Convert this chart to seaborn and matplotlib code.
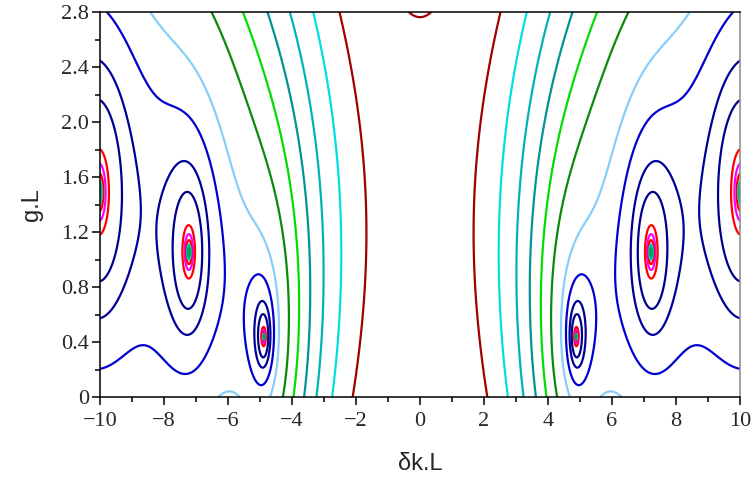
import numpy as np
import matplotlib
matplotlib.use("Agg")
import matplotlib.pyplot as plt
from matplotlib import font_manager
import seaborn as sns

# grating strength and plotted window (normalised to length L)
kappa_L = 3.9
dk_range = [-10, 10]
g_range = [0, 2.8]

# contour levels, in dB of |t|^2, with their colours
levels_db = [-28.0, -24.0, -21.0, -17.9, -14.8, -11.5, -7.5, -2.0,
             2.1, 6.3, 10.0, 17.0, 20.5, 24.0, 28.0, 33.0]
level_colors = ["#a00000", "#a00000", "#00e0e0", "#00b4b4", "#009494",
                "#00dd00", "#0a8a0a", "#87cefa", "#0000d0", "#000099",
                "#00008b", "#ff0000", "#ff00ff", "#ff0000", "#00c8c8",
                "#00aa55"]

x_ticks = [-10, -8, -6, -4, -2, 0, 2, 4, 6, 8, 10]
x_labels = ["\u221210", "\u22128", "\u22126", "\u22124", "\u22122",
            "0", "2", "4", "6", "8", "10"]
y_ticks = [0, 0.4, 0.8, 1.2, 1.6, 2.0, 2.4, 2.8]
y_labels = ["0", "0.4", "0.8", "1.2", "1.6", "2.0", "2.4", "2.8"]


def transmission_db(dk, g, kap):
    # DFB grating with gain: t = gam / (gam cosh(gam) - (g - i dk) sinh(gam))
    s = g - 1j * dk
    gam = np.sqrt(kap**2 + s**2 + 0j)
    t = gam / (gam * np.cosh(gam) - s * np.sinh(gam))
    return 20 * np.log10(np.abs(t))


def pick_font(prefs):
    names = {f.name for f in font_manager.fontManager.ttflist}
    for n in prefs:
        if n in names:
            return n
    return prefs[-1]


serif = pick_font(["Liberation Serif", "Nimbus Roman", "Tinos", "DejaVu Serif"])
sans = pick_font(["Liberation Sans", "Arimo", "Nimbus Sans", "DejaVu Sans"])

sns.set_style("ticks")
plt.rcParams["font.family"] = [serif, "DejaVu Serif"]

dk = np.linspace(dk_range[0], dk_range[1], 2001)
gL = np.linspace(g_range[0], g_range[1], 701)
DK, GL = np.meshgrid(dk, gL)
Z = transmission_db(DK, GL, kappa_L)

fig = plt.figure(figsize=(7.55, 4.79), dpi=100)
fig.patch.set_facecolor("white")
ax = fig.add_axes([100 / 755, 82 / 479, 640 / 755, 385 / 479])
ax.set_facecolor("white")

ax.contour(DK, GL, Z, levels=levels_db, colors=level_colors, linewidths=1.6)

ax.set_xlim(dk_range)
ax.set_ylim(g_range)
ax.set_xticks(x_ticks)
ax.set_xticklabels(x_labels)
ax.set_yticks(y_ticks)
ax.set_yticklabels(y_labels)
ax.set_xticks(np.arange(-10, 11, 1), minor=True)
ax.set_yticks(np.arange(0, 2.81, 0.2), minor=True)
ax.tick_params(which="major", direction="out", length=6, width=1.1,
               labelsize=16, color="black")
ax.tick_params(which="minor", direction="out", length=3.5, width=1.1,
               color="black")
ax.tick_params(axis="x", which="major", pad=5)
ax.tick_params(axis="y", which="major", pad=2)

for side in ["left", "bottom", "top"]:
    ax.spines[side].set_color("black")
    ax.spines[side].set_linewidth(1.1)
ax.spines["right"].set_color("#888888")
ax.spines["right"].set_linewidth(1.1)

ax.set_xlabel("\u03b4k.L", fontsize=17, family=[sans, "DejaVu Sans"], labelpad=16)
ax.set_ylabel("g.L", fontsize=17, family=[sans, "DejaVu Sans"], labelpad=13)

fig.savefig("out.png", dpi=100, facecolor="white")
